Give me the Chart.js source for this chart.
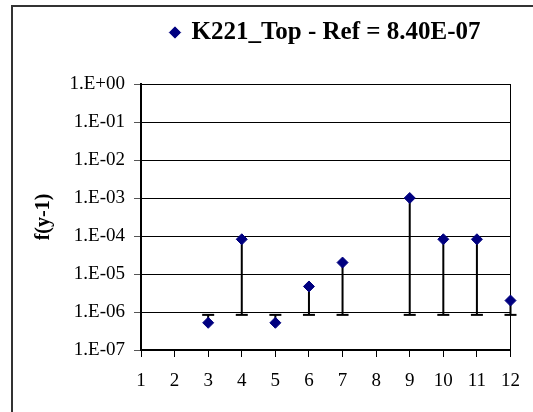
<!DOCTYPE html>
<html>
<head>
<meta charset="utf-8">
<script src="https://cdn.jsdelivr.net/npm/chart.js@4/dist/chart.umd.min.js"></script>
<style>
  html, body { margin: 0; padding: 0; background: #fff; overflow: hidden; }
  #wrap { position: relative; width: 533px; height: 412px; }
  #frame {
    position: absolute; left: 11px; top: 5px; width: 600px; height: 500px;
    border-left: 2px solid #333; border-top: 2px solid #333;
  }
  #c { position: absolute; left: 0; top: 0; }
</style>
</head>
<body>
<div id="wrap">
  <div id="frame"></div>
  <canvas id="c" width="533" height="412"></canvas>
</div>
<script>
// Run numbers that have a result, and the f(y-1) value for each
const runs = [3, 4, 5, 6, 7, 9, 10, 11, 12];
const values = [5.2e-7, 8.2e-5, 5.2e-7, 4.7e-6, 2.0e-5, 1.0e-3, 8.2e-5, 8.2e-5, 2.0e-6];

// Reference level the whiskers hang from
const refValue = 8.40e-7;
const seriesName = 'K221_Top - Ref = 8.40E-07';

// Axis ticks
const xMin = 1;
const xMax = 12;
const yTicks = [1e-7, 1e-6, 1e-5, 1e-4, 1e-3, 1e-2, 1e-1, 1e0];
const yTickLabels = ['1.E-07', '1.E-06', '1.E-05', '1.E-04', '1.E-03', '1.E-02', '1.E-01', '1.E+00'];
const yTitle = 'f(y-1)';

const serif = "'Liberation Serif', 'Times New Roman', serif";
const navy = '#000080';

// Markers
const pointData = runs.map((x, i) => ({ x: x, y: values[i] }));
// Whisker stems: reference -> value, broken between runs
const stemData = [];
runs.forEach((x, i) => {
  stemData.push({ x: x, y: refValue });
  stemData.push({ x: x, y: values[i] });
  stemData.push({ x: x, y: null });
});
// Caps sitting on the reference level
const capData = runs.map(x => ({ x: x, y: refValue }));

new Chart(document.getElementById('c'), {
  type: 'scatter',
  data: {
    datasets: [
      {
        label: seriesName,
        data: pointData,
        clip: false,
        pointStyle: 'rectRot',
        pointRadius: 5.5,
        pointHoverRadius: 5.5,
        backgroundColor: navy,
        borderColor: navy,
        borderWidth: 1
      },
      {
        label: 'caps',
        data: capData,
        clip: false,
        pointStyle: 'line',
        pointRadius: 6,
        pointHoverRadius: 6,
        borderColor: '#000',
        borderWidth: 2
      },
      {
        type: 'line',
        label: 'stems',
        data: stemData,
        clip: false,
        showLine: true,
        spanGaps: false,
        pointRadius: 0,
        borderColor: '#000',
        borderWidth: 2,
        fill: false
      }
    ]
  },
  options: {
    responsive: false,
    animation: false,
    events: [],
    layout: { padding: { left: 28, right: 16, top: 0, bottom: 0 } },
    plugins: {
      tooltip: { enabled: false },
      legend: {
        position: 'top',
        fullSize: false,
        align: 'center',
        labels: {
          usePointStyle: true,
          boxWidth: 8,
          boxHeight: 8,
          padding: 20,
          color: '#000',
          font: { family: serif, size: 25, weight: 'bold' },
          filter: item => item.datasetIndex === 0
        }
      },
      // blank band between the legend and the plot
      title: {
        display: true,
        text: '',
        position: 'top',
        fullSize: false,
        weight: 0,
        font: { size: 10, lineHeight: 1 },
        padding: { top: 19, bottom: 0 }
      }
    },
    scales: {
      x: {
        type: 'linear',
        min: xMin,
        max: xMax,
        afterFit: s => { s.height = 62; },
        ticks: {
          stepSize: 1,
          padding: 13,
          color: '#000',
          font: { family: serif, size: 19 },
          maxRotation: 0
        },
        grid: {
          color: ctx => (ctx.tick && ctx.tick.value === xMax) ? '#000' : 'rgba(0,0,0,0)',
          tickColor: '#000',
          tickLength: 7,
          lineWidth: 1
        },
        border: { color: '#000', width: 2 }
      },
      y: {
        type: 'logarithmic',
        min: yTicks[0],
        max: yTicks[yTicks.length - 1],
        afterFit: s => { s.width = 113; },
        afterBuildTicks: s => { s.ticks = yTicks.map(v => ({ value: v })); },
        ticks: {
          autoSkip: false,
          padding: 9,
          color: '#000',
          font: { family: serif, size: 19 },
          callback: v => {
            const k = yTicks.indexOf(v);
            return k >= 0 ? yTickLabels[k] : '';
          }
        },
        grid: {
          color: '#000',
          tickColor: '#555',
          tickLength: 7,
          lineWidth: 1
        },
        border: { color: '#000', width: 2 },
        title: {
          display: true,
          text: yTitle,
          color: '#000',
          font: { family: serif, size: 20, weight: 'bold' },
          padding: { top: 4, bottom: 0 }
        }
      }
    }
  }
});
</script>
</body>
</html>
